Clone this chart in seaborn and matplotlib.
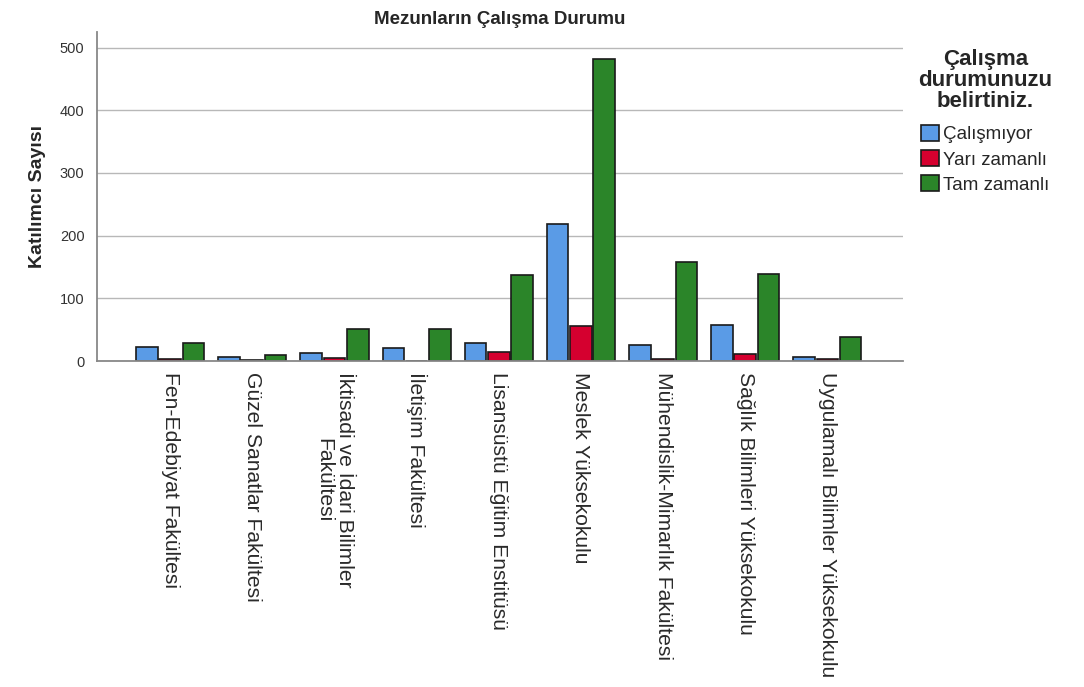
import pandas as pd
import numpy as np
import matplotlib
matplotlib.use("Agg")
import matplotlib.pyplot as plt
import seaborn as sns

fakulteler = [
    "Fen-Edebiyat Fakültesi",
    "Güzel Sanatlar Fakültesi",
    "İktisadi ve İdari Bilimler\nFakültesi",
    "İletişim Fakültesi",
    "Lisansüstü Eğitim Enstitüsü",
    "Meslek Yüksekokulu",
    "Mühendislik-Mimarlık Fakültesi",
    "Sağlık Bilimleri Yüksekokulu",
    "Uygulamalı Bilimler Yüksekokulu",
]
durumlar = ["Çalışmıyor", "Yarı zamanlı", "Tam zamanlı"]
calismiyor = [22, 7, 12, 20, 29, 219, 26, 57, 6]
yari_zamanli = [4, 1, 5, 0, 14, 56, 3, 11, 3]
tam_zamanli = [28, 10, 51, 51, 137, 482, 158, 139, 38]
renkler = ["#5a9be6", "#d5002f", "#2b8529"]

df = pd.DataFrame({
    "Fakülte": fakulteler * 3,
    "Durum": [d for d in durumlar for _ in fakulteler],
    "Sayı": calismiyor + yari_zamanli + tam_zamanli,
})

sns.set_style("white")
plt.rcParams["font.family"] = ["Liberation Sans", "DejaVu Sans"]

fig = plt.figure(figsize=(10.84, 6.87), dpi=100)
ax = fig.add_axes([0.0895, 0.4745, 0.7435, 0.479])

sns.barplot(
    data=df,
    x="Fakülte",
    y="Sayı",
    hue="Durum",
    hue_order=durumlar,
    palette=renkler,
    width=0.85,
    gap=0.07,
    edgecolor="#1a1a1a",
    linewidth=1.2,
    saturation=1,
    ax=ax,
)

ax.set_ylim(0, 525)
ax.set_xlim(-0.89, 8.92)
ax.set_yticks([0, 100, 200, 300, 400, 500])
ax.yaxis.grid(True, color="#b8b8b8", linewidth=1)
ax.set_axisbelow(True)
for s in ["top", "right"]:
    ax.spines[s].set_visible(False)
for s in ["left", "bottom"]:
    ax.spines[s].set_color("#888888")
    ax.spines[s].set_linewidth(1.3)

ax.tick_params(axis="y", labelsize=10.5, colors="#333333", length=0, pad=9)
ax.tick_params(axis="x", length=0, pad=8)
ax.set_xticks(range(len(fakulteler)))
ax.set_xticklabels(fakulteler, rotation=270, ha="center", va="top",
                   fontsize=15.2, color="#2a2a2a", linespacing=1.1)

ax.set_xlabel("")
ax.set_ylabel("Katılımcı Sayısı", fontsize=14, fontweight="bold", labelpad=10)
ax.set_title("Mezunların Çalışma Durumu", fontsize=13.5, fontweight="bold", pad=6)

leg = ax.legend(
    title="Çalışma\ndurumunuzu\nbelirtiniz.",
    loc="upper left",
    bbox_to_anchor=(0.998, 1.0),
    frameon=False,
    fontsize=13.5,
    handlelength=0.95,
    handleheight=0.95,
    handletextpad=0.2,
    labelspacing=0.35,
)
leg.get_title().set_fontweight("bold")
leg.get_title().set_fontsize(16)
leg._legend_box.align = "center"
leg._legend_box.sep = 9
leg.get_title().set_multialignment("center")
leg.get_title().set_linespacing(1.02)

fig.savefig("out.png", dpi=100)
